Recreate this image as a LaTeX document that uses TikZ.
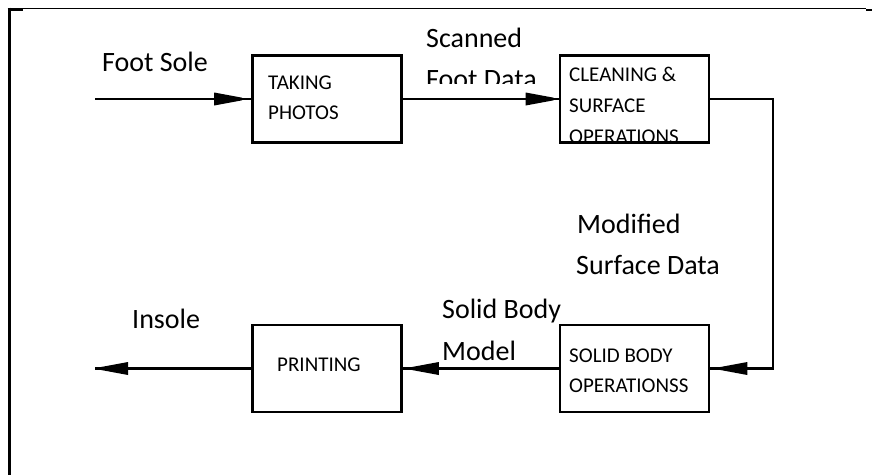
\documentclass[tikz,border=0pt]{standalone}
\usepackage{fontspec}
\setmainfont{Carlito}
\usetikzlibrary{arrows.meta,decorations.markings}
\begin{document}
\begin{tikzpicture}[x=1pt,y=-1pt,
  lbl/.style={font=\fontsize{28}{34}\selectfont, inner sep=0pt, anchor=base west},
  boxtxt/.style={font=\fontsize{21}{25}\selectfont, inner sep=0pt, anchor=base west},
  stepbox/.style={draw, line width=2.6pt, minimum width=149pt, minimum height=87pt, inner sep=0pt},
  conn/.style={line width=2.6pt},
  tipat/.style={postaction={decorate}, decoration={markings,
      mark=at position #1 with {\fill (-28pt,-6.5pt) -- (0pt,-1.3pt) -- (0pt,1.3pt) -- (-28pt,6.5pt) -- cycle;}}}
]
\useasboundingbox (0,0) rectangle (872,475);
% frame
\draw[line width=3pt] (9,7.5) -- (9,475);
\draw[line width=3pt] (7.5,9) -- (23,9);
\draw[line width=1.2pt] (23,8.5) -- (866,8.5);
\draw[line width=2pt] (866,9.5) -- (872,9.5);

% labels
\node[lbl] (fs) at (102,71) {Foot Sole};
\node[lbl] (sc1) at (426,47) {Scanned};
\begin{scope}
  \clip (400,55) rectangle (560,83);
  \node[lbl] (sc2) at (426,88) {Foot Data};
\end{scope}
\node[lbl] (md1) at (577,233) {Modified};
\node[lbl] (md2) at (576,274) {Surface Data};
\node[lbl] (sbl1) at (442,318) {Solid Body};
\node[lbl] (sbl2) at (442,360) {Model};
\node[lbl] (ins) at (132,328) {Insole};

% box texts
\node[boxtxt] (t1) at (268,89.5) {TAKING};
\node[boxtxt] (t2) at (268,119.5) {PHOTOS};
\node[boxtxt] (c1) at (569,81.5) {CLEANING \&};
\node[boxtxt] (c2) at (569,112.5) {SURFACE};
\node[boxtxt] (c3) at (569,143.5) {OPERATIONS};
\node[boxtxt] (p1) at (277,371) {PRINTING};
\node[boxtxt] (s1) at (569,362) {SOLID BODY};
\node[boxtxt] (s2) at (569,392) {OPERATIONSS};

% boxes
\node[stepbox] (tp) at (327,99) {};
\node[stepbox] (cl) at (634.5,99) {};
\node[stepbox] (pr) at (327,368.5) {};
\node[stepbox] (sb) at (634.5,368.5) {};

% connectors
\coordinate (in) at (95,99);
\coordinate (turn) at (773,99);
\coordinate (out) at (95,368.5);
\draw[conn, tipat=-9pt] (in) -- (tp.west);
\draw[conn, tipat=-5pt] (tp.east) -- (cl.east -| cl.west);
\draw[conn, tipat=-9pt] (cl.east) -- (turn) |- (sb.east);
\draw[conn, tipat=-8pt] (sb.west) -- (pr.east);
\draw[conn, tipat=-5pt] (pr.west) -- (out);
\end{tikzpicture}
\end{document}
